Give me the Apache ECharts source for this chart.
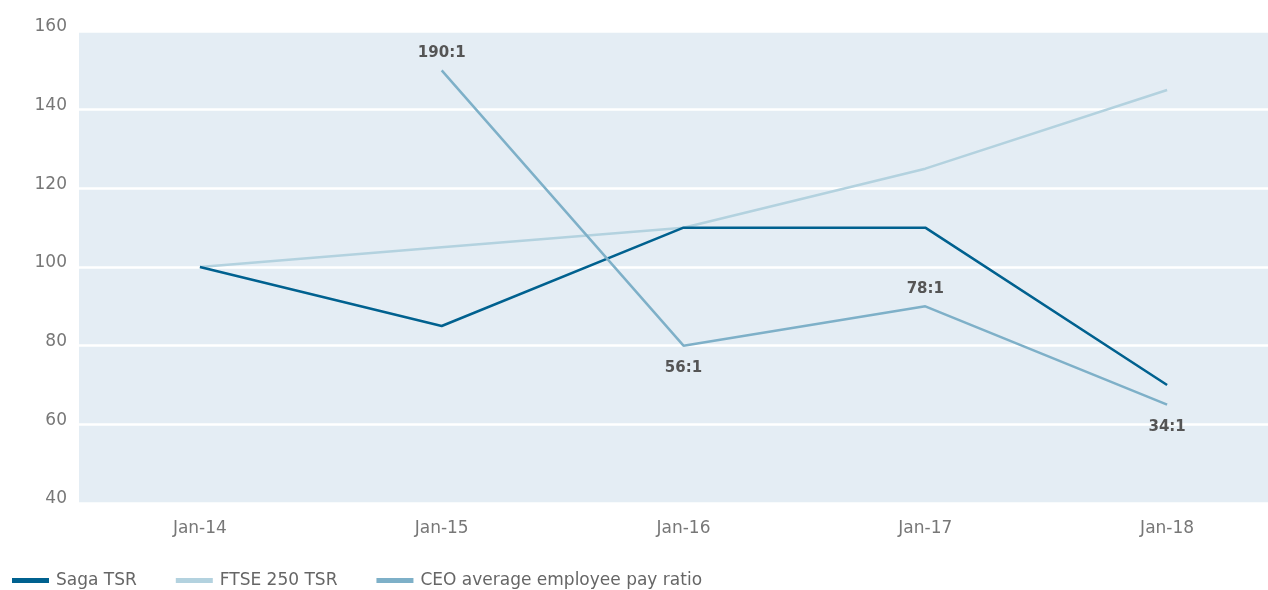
<!DOCTYPE html>
<html><head><meta charset="utf-8">
<script src="https://cdn.jsdelivr.net/npm/echarts@6/dist/echarts.min.js"></script>
<style>html,body{margin:0;padding:0;background:#fff}#c{width:1268px;height:590px}</style>
</head><body><div id="c"></div>
<script>
const categories = ['Jan-14','Jan-15','Jan-16','Jan-17','Jan-18'];
const sagaTSR = [100, 85, 110, 110, 70];
const ftse250TSR = [100, 105, 110, 125, 145];
const ceoRatio = [null, 150, 80, 90, 65];
const ceoRatioLabels = [null, '190:1', '56:1', '78:1', '34:1'];
const ceoLabelPos = [null, 'top', 'bottom', 'top', 'bottom'];
const yTicks = [40, 60, 80, 100, 120, 140, 160];

const chart = echarts.init(document.getElementById('c'));
const font = 'DejaVu Sans';
chart.setOption({
  animation: false,
  grid: {left: 79, top: 31, width: 1209, height: 472, show: true, backgroundColor: '#e4edf4', borderWidth: 0,
    outerBoundsMode: 'none', containLabel: false},
  legend: {
    left: 7, top: 567, itemWidth: 37, itemHeight: 5, itemGap: 39, icon: 'rect',
    textStyle: {color: '#666', fontSize: 17, fontFamily: font, padding: [0, 0, 0, 2]},
    data: ['Saga TSR', 'FTSE 250 TSR', 'CEO average employee pay ratio']
  },
  xAxis: {
    type: 'category', data: categories, boundaryGap: true,
    axisLine: {show: false}, axisTick: {show: false},
    axisLabel: {color: '#777', fontSize: 17, fontFamily: font, margin: 17}
  },
  yAxis: {
    type: 'value', min: 40, max: 160, interval: 20,
    axisLine: {show: false}, axisTick: {show: false},
    splitLine: {show: true, lineStyle: {color: '#ffffff', width: 2.5}},
    axisLabel: {color: '#777', fontSize: 17, fontFamily: font, margin: 12, verticalAlign: 'bottom',
      lineHeight: 8,
      formatter: v => yTicks.includes(v) ? String(v) : ''}
  },
  series: [
    {name: 'Saga TSR', type: 'line', data: sagaTSR, symbol: 'none', color: '#00618f',
      lineStyle: {width: 2.5, color: '#00618f'}, z: 3},
    {name: 'FTSE 250 TSR', type: 'line', data: ftse250TSR, symbol: 'none', color: '#b3d2df',
      lineStyle: {width: 2.5, color: '#b3d2df'}, z: 2},
    {name: 'CEO average employee pay ratio', type: 'line', symbol: 'circle', symbolSize: 0, showSymbol: true,
      color: '#7eb0c8',
      lineStyle: {width: 2.5, color: '#7eb0c8'}, z: 4,
      data: ceoRatio.map((v, i) => v == null ? null : {
        value: v,
        label: {show: true, position: ceoLabelPos[i], formatter: ceoRatioLabels[i],
          distance: ceoLabelPos[i] === 'top' ? 10 : 15,
          color: '#555', fontWeight: 'bold', fontSize: 15, fontFamily: font}
      })
    }
  ]
});
</script></body></html>
